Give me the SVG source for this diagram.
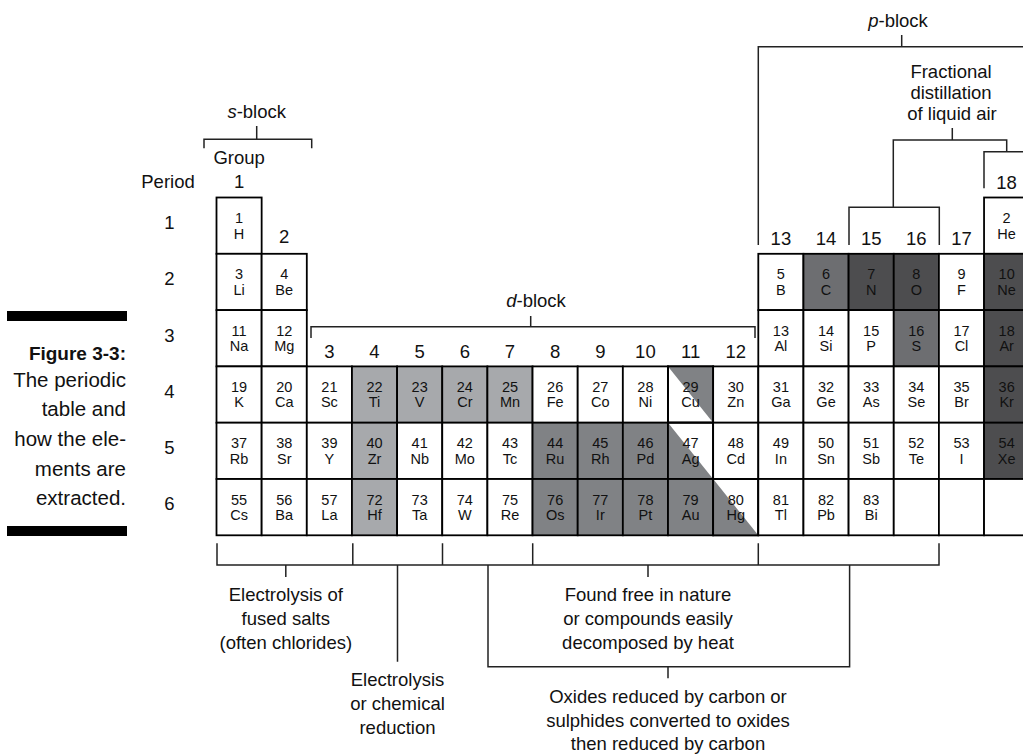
<svg xmlns="http://www.w3.org/2000/svg" width="1023" height="754" viewBox="0 0 1023 754">
<style>
text{font-family:"Liberation Sans",Arial,sans-serif;fill:#111}
use{fill:#fff}
.c{stroke:#000;stroke-width:1.8}
.o{fill:none;stroke:#000;stroke-width:1.8}
use.lg,.lg{fill:#a7a9ac}use.mg,.mg{fill:#808285}use.g2{fill:#6d6e71}use.dk{fill:#4d4d4f}
.n,.s{font-size:14.5px;text-anchor:middle}
.lb{font-size:18.5px;text-anchor:middle}
.cap{font-size:20.5px;text-anchor:end}
.br{fill:none;stroke:#222;stroke-width:1.5}
</style>
<defs>
<rect id="cell" class="c" width="45.15" height="56.3"/>
<rect id="cello" class="o" width="45.15" height="56.3"/>
</defs>

<g id="caption">
<rect x="7" y="311" width="120" height="10" fill="#000"/>
<text x="126" y="360" style="font-size:19px;font-weight:bold;text-anchor:end">Figure 3-3:</text>
<text class="cap" x="126" y="387">The periodic</text>
<text class="cap" x="126" y="416">table and</text>
<text class="cap" x="126" y="446">how the ele-</text>
<text class="cap" x="126" y="476">ments are</text>
<text class="cap" x="126" y="505">extracted.</text>
<rect x="7" y="526" width="120" height="10" fill="#000"/>
</g>

<g id="labels">
<text class="lb" x="168" y="188">Period</text>
<text class="lb" x="169.5" y="228.5">1</text>
<text class="lb" x="169.5" y="285">2</text>
<text class="lb" x="169.5" y="341.5">3</text>
<text class="lb" x="169.5" y="398">4</text>
<text class="lb" x="169.5" y="454">5</text>
<text class="lb" x="169.5" y="510">6</text>
<text class="lb" x="239.1" y="164">Group</text>
<text class="lb" x="239.1" y="188">1</text>
<text class="lb" x="284.2" y="243">2</text>
<text class="lb" x="329.4" y="358">3</text>
<text class="lb" x="374.5" y="358">4</text>
<text class="lb" x="419.7" y="358">5</text>
<text class="lb" x="464.8" y="358">6</text>
<text class="lb" x="510" y="358">7</text>
<text class="lb" x="555.1" y="358">8</text>
<text class="lb" x="600.3" y="358">9</text>
<text class="lb" x="645.4" y="358">10</text>
<text class="lb" x="690.6" y="358">11</text>
<text class="lb" x="735.7" y="358">12</text>
<text class="lb" x="780.9" y="245">13</text>
<text class="lb" x="826" y="245">14</text>
<text class="lb" x="871.2" y="245">15</text>
<text class="lb" x="916.3" y="245">16</text>
<text class="lb" x="961.5" y="245">17</text>
<text class="lb" x="1006.6" y="189">18</text>
<text class="lb" x="256.7" y="118"><tspan font-style="italic">s</tspan>-block</text>
<text class="lb" x="536" y="307"><tspan font-style="italic">d</tspan>-block</text>
<text class="lb" x="898" y="27"><tspan font-style="italic">p</tspan>-block</text>
<text class="lb" x="951" y="78">Fractional</text>
<text class="lb" x="951" y="99">distillation</text>
<text class="lb" x="952" y="120">of liquid air</text>
<text class="lb" x="285.8" y="600.7">Electrolysis of</text>
<text class="lb" x="285.8" y="625">fused salts</text>
<text class="lb" x="285.8" y="649">(often chlorides)</text>
<text class="lb" x="397.5" y="685.5">Electrolysis</text>
<text class="lb" x="397.5" y="710">or chemical</text>
<text class="lb" x="397.5" y="734">reduction</text>
<text class="lb" x="648" y="600.7">Found free in nature</text>
<text class="lb" x="648" y="625">or compounds easily</text>
<text class="lb" x="648" y="649">decomposed by heat</text>
<text class="lb" x="668" y="703">Oxides reduced by carbon or</text>
<text class="lb" x="668" y="727">sulphides converted to oxides</text>
<text class="lb" x="668" y="750">then reduced by carbon</text>
</g>

<g id="connectors">
<path class="br" d="M204 148.3V139.3H311.7V148.3M256.7 126V139.3"/>
<path class="br" d="M311 338V326.7H755V338M530.7 316V326.7"/>
<path class="br" d="M758.3 245V46.7H1023M901.7 35V46.7"/>
<path class="br" d="M952.3 128V140M893.3 207.3V140H1006.7V151.7"/>
<path class="br" d="M849 245V207.3H939.3V245"/>
<path class="br" d="M984 188.3V151.7H1023"/>
<path class="br" d="M217 543.3V565H939V543.3M352.8 543.3V565M442.5 543.3V565M532.7 543.3V565M758.3 543.3V565"/>
<path class="br" d="M285.8 565V577M397.5 565V661.7M648 565V577"/>
<path class="br" d="M488 565V666.7H849.6V565M668 666.7V678.3"/>
</g>

<g id="table">
<g id="el-1" transform="translate(216.5,197.5)"><use href="#cell"/><text class="n" x="22.6" y="25.5">1</text><text class="s" x="22.6" y="41">H</text></g>
<g id="el-2" transform="translate(984.05,197.5)"><use href="#cell"/><text class="n" x="22.6" y="25.5">2</text><text class="s" x="22.6" y="41">He</text></g>

<g id="el-3" transform="translate(216.5,253.8)"><use href="#cell"/><text class="n" x="22.6" y="25.5">3</text><text class="s" x="22.6" y="41">Li</text></g>
<g id="el-4" transform="translate(261.65,253.8)"><use href="#cell"/><text class="n" x="22.6" y="25.5">4</text><text class="s" x="22.6" y="41">Be</text></g>
<g id="el-5" transform="translate(758.3,253.8)"><use href="#cell"/><text class="n" x="22.6" y="25.5">5</text><text class="s" x="22.6" y="41">B</text></g>
<g id="el-6" transform="translate(803.45,253.8)"><use href="#cell" class="g2"/><text class="n" x="22.6" y="25.5">6</text><text class="s" x="22.6" y="41">C</text></g>
<g id="el-7" transform="translate(848.6,253.8)"><use href="#cell" class="dk"/><text class="n" x="22.6" y="25.5">7</text><text class="s" x="22.6" y="41">N</text></g>
<g id="el-8" transform="translate(893.75,253.8)"><use href="#cell" class="dk"/><text class="n" x="22.6" y="25.5">8</text><text class="s" x="22.6" y="41">O</text></g>
<g id="el-9" transform="translate(938.9,253.8)"><use href="#cell"/><text class="n" x="22.6" y="25.5">9</text><text class="s" x="22.6" y="41">F</text></g>
<g id="el-10" transform="translate(984.05,253.8)"><use href="#cell" class="dk"/><text class="n" x="22.6" y="25.5">10</text><text class="s" x="22.6" y="41">Ne</text></g>

<g id="el-11" transform="translate(216.5,310.1)"><use href="#cell"/><text class="n" x="22.6" y="25.5">11</text><text class="s" x="22.6" y="41">Na</text></g>
<g id="el-12" transform="translate(261.65,310.1)"><use href="#cell"/><text class="n" x="22.6" y="25.5">12</text><text class="s" x="22.6" y="41">Mg</text></g>
<g id="el-13" transform="translate(758.3,310.1)"><use href="#cell"/><text class="n" x="22.6" y="25.5">13</text><text class="s" x="22.6" y="41">Al</text></g>
<g id="el-14" transform="translate(803.45,310.1)"><use href="#cell"/><text class="n" x="22.6" y="25.5">14</text><text class="s" x="22.6" y="41">Si</text></g>
<g id="el-15" transform="translate(848.6,310.1)"><use href="#cell"/><text class="n" x="22.6" y="25.5">15</text><text class="s" x="22.6" y="41">P</text></g>
<g id="el-16" transform="translate(893.75,310.1)"><use href="#cell" class="g2"/><text class="n" x="22.6" y="25.5">16</text><text class="s" x="22.6" y="41">S</text></g>
<g id="el-17" transform="translate(938.9,310.1)"><use href="#cell"/><text class="n" x="22.6" y="25.5">17</text><text class="s" x="22.6" y="41">Cl</text></g>
<g id="el-18" transform="translate(984.05,310.1)"><use href="#cell" class="dk"/><text class="n" x="22.6" y="25.5">18</text><text class="s" x="22.6" y="41">Ar</text></g>

<g id="el-19" transform="translate(216.5,366.4)"><use href="#cell"/><text class="n" x="22.6" y="25.5">19</text><text class="s" x="22.6" y="41">K</text></g>
<g id="el-20" transform="translate(261.65,366.4)"><use href="#cell"/><text class="n" x="22.6" y="25.5">20</text><text class="s" x="22.6" y="41">Ca</text></g>
<g id="el-21" transform="translate(306.8,366.4)"><use href="#cell"/><text class="n" x="22.6" y="25.5">21</text><text class="s" x="22.6" y="41">Sc</text></g>
<g id="el-22" transform="translate(351.95,366.4)"><use href="#cell" class="lg"/><text class="n" x="22.6" y="25.5">22</text><text class="s" x="22.6" y="41">Ti</text></g>
<g id="el-23" transform="translate(397.1,366.4)"><use href="#cell" class="lg"/><text class="n" x="22.6" y="25.5">23</text><text class="s" x="22.6" y="41">V</text></g>
<g id="el-24" transform="translate(442.25,366.4)"><use href="#cell" class="lg"/><text class="n" x="22.6" y="25.5">24</text><text class="s" x="22.6" y="41">Cr</text></g>
<g id="el-25" transform="translate(487.4,366.4)"><use href="#cell" class="lg"/><text class="n" x="22.6" y="25.5">25</text><text class="s" x="22.6" y="41">Mn</text></g>
<g id="el-26" transform="translate(532.55,366.4)"><use href="#cell"/><text class="n" x="22.6" y="25.5">26</text><text class="s" x="22.6" y="41">Fe</text></g>
<g id="el-27" transform="translate(577.7,366.4)"><use href="#cell"/><text class="n" x="22.6" y="25.5">27</text><text class="s" x="22.6" y="41">Co</text></g>
<g id="el-28" transform="translate(622.85,366.4)"><use href="#cell"/><text class="n" x="22.6" y="25.5">28</text><text class="s" x="22.6" y="41">Ni</text></g>
<g id="el-29" transform="translate(668,366.4)"><use href="#cell"/><polygon class="mg" points="0,0 45.15,0 45.15,56.3"/><use href="#cello"/><text class="n" x="22.6" y="25.5">29</text><text class="s" x="22.6" y="41">Cu</text></g>
<g id="el-30" transform="translate(713.15,366.4)"><use href="#cell"/><text class="n" x="22.6" y="25.5">30</text><text class="s" x="22.6" y="41">Zn</text></g>
<g id="el-31" transform="translate(758.3,366.4)"><use href="#cell"/><text class="n" x="22.6" y="25.5">31</text><text class="s" x="22.6" y="41">Ga</text></g>
<g id="el-32" transform="translate(803.45,366.4)"><use href="#cell"/><text class="n" x="22.6" y="25.5">32</text><text class="s" x="22.6" y="41">Ge</text></g>
<g id="el-33" transform="translate(848.6,366.4)"><use href="#cell"/><text class="n" x="22.6" y="25.5">33</text><text class="s" x="22.6" y="41">As</text></g>
<g id="el-34" transform="translate(893.75,366.4)"><use href="#cell"/><text class="n" x="22.6" y="25.5">34</text><text class="s" x="22.6" y="41">Se</text></g>
<g id="el-35" transform="translate(938.9,366.4)"><use href="#cell"/><text class="n" x="22.6" y="25.5">35</text><text class="s" x="22.6" y="41">Br</text></g>
<g id="el-36" transform="translate(984.05,366.4)"><use href="#cell" class="dk"/><text class="n" x="22.6" y="25.5">36</text><text class="s" x="22.6" y="41">Kr</text></g>

<g id="el-37" transform="translate(216.5,422.7)"><use href="#cell"/><text class="n" x="22.6" y="25.5">37</text><text class="s" x="22.6" y="41">Rb</text></g>
<g id="el-38" transform="translate(261.65,422.7)"><use href="#cell"/><text class="n" x="22.6" y="25.5">38</text><text class="s" x="22.6" y="41">Sr</text></g>
<g id="el-39" transform="translate(306.8,422.7)"><use href="#cell"/><text class="n" x="22.6" y="25.5">39</text><text class="s" x="22.6" y="41">Y</text></g>
<g id="el-40" transform="translate(351.95,422.7)"><use href="#cell" class="lg"/><text class="n" x="22.6" y="25.5">40</text><text class="s" x="22.6" y="41">Zr</text></g>
<g id="el-41" transform="translate(397.1,422.7)"><use href="#cell"/><text class="n" x="22.6" y="25.5">41</text><text class="s" x="22.6" y="41">Nb</text></g>
<g id="el-42" transform="translate(442.25,422.7)"><use href="#cell"/><text class="n" x="22.6" y="25.5">42</text><text class="s" x="22.6" y="41">Mo</text></g>
<g id="el-43" transform="translate(487.4,422.7)"><use href="#cell"/><text class="n" x="22.6" y="25.5">43</text><text class="s" x="22.6" y="41">Tc</text></g>
<g id="el-44" transform="translate(532.55,422.7)"><use href="#cell" class="mg"/><text class="n" x="22.6" y="25.5">44</text><text class="s" x="22.6" y="41">Ru</text></g>
<g id="el-45" transform="translate(577.7,422.7)"><use href="#cell" class="mg"/><text class="n" x="22.6" y="25.5">45</text><text class="s" x="22.6" y="41">Rh</text></g>
<g id="el-46" transform="translate(622.85,422.7)"><use href="#cell" class="mg"/><text class="n" x="22.6" y="25.5">46</text><text class="s" x="22.6" y="41">Pd</text></g>
<g id="el-47" transform="translate(668,422.7)"><use href="#cell"/><polygon class="mg" points="0,0 0,56.3 45.15,56.3"/><use href="#cello"/><text class="n" x="22.6" y="25.5">47</text><text class="s" x="22.6" y="41">Ag</text></g>
<g id="el-48" transform="translate(713.15,422.7)"><use href="#cell"/><text class="n" x="22.6" y="25.5">48</text><text class="s" x="22.6" y="41">Cd</text></g>
<g id="el-49" transform="translate(758.3,422.7)"><use href="#cell"/><text class="n" x="22.6" y="25.5">49</text><text class="s" x="22.6" y="41">In</text></g>
<g id="el-50" transform="translate(803.45,422.7)"><use href="#cell"/><text class="n" x="22.6" y="25.5">50</text><text class="s" x="22.6" y="41">Sn</text></g>
<g id="el-51" transform="translate(848.6,422.7)"><use href="#cell"/><text class="n" x="22.6" y="25.5">51</text><text class="s" x="22.6" y="41">Sb</text></g>
<g id="el-52" transform="translate(893.75,422.7)"><use href="#cell"/><text class="n" x="22.6" y="25.5">52</text><text class="s" x="22.6" y="41">Te</text></g>
<g id="el-53" transform="translate(938.9,422.7)"><use href="#cell"/><text class="n" x="22.6" y="25.5">53</text><text class="s" x="22.6" y="41">I</text></g>
<g id="el-54" transform="translate(984.05,422.7)"><use href="#cell" class="dk"/><text class="n" x="22.6" y="25.5">54</text><text class="s" x="22.6" y="41">Xe</text></g>

<g id="el-55" transform="translate(216.5,479)"><use href="#cell"/><text class="n" x="22.6" y="25.5">55</text><text class="s" x="22.6" y="41">Cs</text></g>
<g id="el-56" transform="translate(261.65,479)"><use href="#cell"/><text class="n" x="22.6" y="25.5">56</text><text class="s" x="22.6" y="41">Ba</text></g>
<g id="el-57" transform="translate(306.8,479)"><use href="#cell"/><text class="n" x="22.6" y="25.5">57</text><text class="s" x="22.6" y="41">La</text></g>
<g id="el-72" transform="translate(351.95,479)"><use href="#cell" class="lg"/><text class="n" x="22.6" y="25.5">72</text><text class="s" x="22.6" y="41">Hf</text></g>
<g id="el-73" transform="translate(397.1,479)"><use href="#cell"/><text class="n" x="22.6" y="25.5">73</text><text class="s" x="22.6" y="41">Ta</text></g>
<g id="el-74" transform="translate(442.25,479)"><use href="#cell"/><text class="n" x="22.6" y="25.5">74</text><text class="s" x="22.6" y="41">W</text></g>
<g id="el-75" transform="translate(487.4,479)"><use href="#cell"/><text class="n" x="22.6" y="25.5">75</text><text class="s" x="22.6" y="41">Re</text></g>
<g id="el-76" transform="translate(532.55,479)"><use href="#cell" class="mg"/><text class="n" x="22.6" y="25.5">76</text><text class="s" x="22.6" y="41">Os</text></g>
<g id="el-77" transform="translate(577.7,479)"><use href="#cell" class="mg"/><text class="n" x="22.6" y="25.5">77</text><text class="s" x="22.6" y="41">Ir</text></g>
<g id="el-78" transform="translate(622.85,479)"><use href="#cell" class="mg"/><text class="n" x="22.6" y="25.5">78</text><text class="s" x="22.6" y="41">Pt</text></g>
<g id="el-79" transform="translate(668,479)"><use href="#cell" class="mg"/><text class="n" x="22.6" y="25.5">79</text><text class="s" x="22.6" y="41">Au</text></g>
<g id="el-80" transform="translate(713.15,479)"><use href="#cell"/><polygon class="mg" points="0,0 0,56.3 45.15,56.3"/><use href="#cello"/><text class="n" x="22.6" y="25.5">80</text><text class="s" x="22.6" y="41">Hg</text></g>
<g id="el-81" transform="translate(758.3,479)"><use href="#cell"/><text class="n" x="22.6" y="25.5">81</text><text class="s" x="22.6" y="41">Tl</text></g>
<g id="el-82" transform="translate(803.45,479)"><use href="#cell"/><text class="n" x="22.6" y="25.5">82</text><text class="s" x="22.6" y="41">Pb</text></g>
<g id="el-83" transform="translate(848.6,479)"><use href="#cell"/><text class="n" x="22.6" y="25.5">83</text><text class="s" x="22.6" y="41">Bi</text></g>
<g id="empty-6-16" transform="translate(893.75,479)"><use href="#cell"/></g>
<g id="empty-6-17" transform="translate(938.9,479)"><use href="#cell"/></g>
<g id="empty-6-18" transform="translate(984.05,479)"><use href="#cell"/></g>
</g>
</svg>
